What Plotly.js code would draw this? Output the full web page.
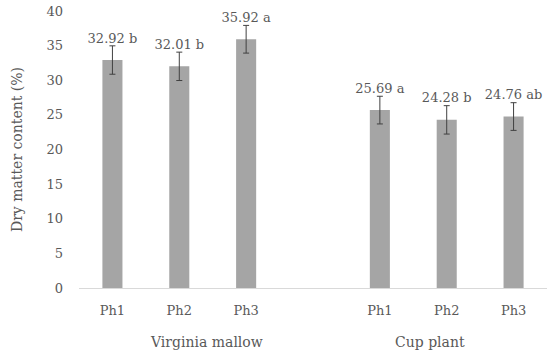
<!DOCTYPE html>
<html>
<head>
<meta charset="utf-8">
<script src="https://cdn.plot.ly/plotly-3.0.1.min.js"></script>
<style>html,body{margin:0;padding:0;background:#fff;}#chart{width:550px;height:355px;}</style>
</head>
<body>
<div id="chart"></div>
<script>
// Data
const positions = [0, 1, 2, 4, 5, 6];
const tickLabels = ['Ph1', 'Ph2', 'Ph3', 'Ph1', 'Ph2', 'Ph3'];
const values = [32.92, 32.01, 35.92, 25.69, 24.28, 24.76];
const errors = [2.05, 2.05, 2.0, 2.0, 2.05, 2.0];
const letters = ['b', 'b', 'a', 'a', 'b', 'ab'];
const groupNames = ['Virginia mallow', 'Cup plant'];
const groupCenters = [1.4, 4.75];

const FONT = 'DejaVu Serif';
const TXT = '#595959';

const labelText = values.map((v, i) => v.toFixed(2) + ' ' + letters[i]);
const labelY = values.map((v, i) => v + errors[i]);

const traces = [
  {
    type: 'bar',
    x: positions,
    y: values,
    width: 0.3,
    marker: {color: '#A5A5A5'},
    error_y: {type: 'data', array: errors, visible: true, color: '#404040', thickness: 1, width: 3},
    hoverinfo: 'none'
  },
  {
    type: 'scatter',
    mode: 'text',
    x: positions,
    y: labelY,
    text: labelText,
    textposition: 'top center',
    textfont: {family: FONT, size: 13, color: TXT},
    hoverinfo: 'none'
  }
];

const layout = {
  width: 550,
  height: 355,
  margin: {l: 79, r: 3, t: 11, b: 67},
  paper_bgcolor: '#fff',
  plot_bgcolor: '#fff',
  showlegend: false,
  font: {family: FONT, size: 13, color: TXT},
  xaxis: {
    range: [-0.5, 6.5],
    tickvals: positions,
    ticktext: tickLabels,
    showgrid: false,
    zeroline: false,
    showline: true,
    linecolor: '#D9D9D9',
    linewidth: 1,
    ticks: '',
    ticklabelstandoff: 10,
    tickfont: {family: FONT, size: 13, color: TXT},
    fixedrange: true
  },
  yaxis: {
    range: [0, 40],
    dtick: 5,
    showgrid: false,
    zeroline: false,
    showline: false,
    ticks: '',
    ticklabelstandoff: 15,
    tickfont: {family: FONT, size: 13, color: TXT},
    title: {text: 'Dry matter content (%)', font: {family: FONT, size: 14, color: TXT}, standoff: 20},
    fixedrange: true
  },
  annotations: groupNames.map((g, i) => ({
    text: g,
    x: groupCenters[i],
    xref: 'x',
    y: -0.195,
    yref: 'paper',
    yanchor: 'middle',
    xanchor: 'center',
    showarrow: false,
    font: {family: FONT, size: 14, color: TXT}
  }))
};

Plotly.newPlot('chart', traces, layout, {displayModeBar: false, staticPlot: true});
</script>
</body>
</html>
